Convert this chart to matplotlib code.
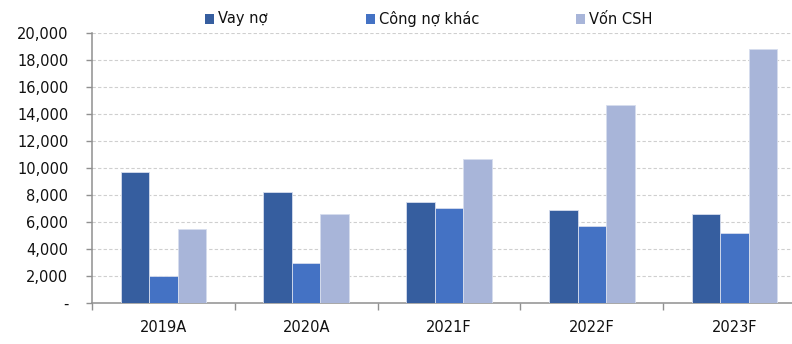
import matplotlib
matplotlib.use("Agg")
import matplotlib.pyplot as plt
from matplotlib.patches import Rectangle
from matplotlib.ticker import FuncFormatter, MultipleLocator
import numpy as np

categories = ["2019A", "2020A", "2021F", "2022F", "2023F"]
series_names = ["Vay nợ", "Công nợ khác", "Vốn CSH"]
vay_no = [9700, 8200, 7460, 6910, 6570]
cong_no_khac = [2000, 2960, 7040, 5680, 5160]
von_csh = [5460, 6570, 10640, 14620, 18810]
colors = ["#365E9F", "#4472C4", "#A8B5D9"]

plt.rcParams["font.family"] = ["DejaVu Sans"]
fig = plt.figure(figsize=(7.92, 3.44), dpi=100)
ax = fig.add_axes([92 / 792, 1 - 303 / 344, (806 - 92) / 792, (303 - 32.7) / 344])

x = np.arange(len(categories))
width = 0.2
for i, (vals, col) in enumerate(zip([vay_no, cong_no_khac, von_csh], colors)):
    ax.bar(x + (i - 1) * width, vals, width, color=col, edgecolor="#D6DDEE",
           linewidth=0.6, zorder=3)

ax.set_xlim(-0.5, len(categories) - 0.5)
ax.set_ylim(0, 20000)
ax.yaxis.set_major_locator(MultipleLocator(2000))
ax.yaxis.set_major_formatter(FuncFormatter(lambda v, p: "-" if v == 0 else f"{int(v):,}"))
ax.grid(axis="y", color="#CFCFCF", linestyle=(0, (3, 2)), linewidth=0.8, zorder=0)

ax.set_xticks(x)
ax.set_xticklabels(categories)
ax.set_xticks(np.arange(-0.5, len(categories)), minor=True)
ax.tick_params(axis="x", which="major", length=0, pad=12, labelsize=10.5, colors="#111111")
ax.tick_params(axis="x", which="minor", length=5, width=1, color="#909090", direction="out")
ax.tick_params(axis="y", length=4, width=1, color="#909090", pad=13, labelsize=10.5,
               labelcolor="#111111")

for s in ["top", "right"]:
    ax.spines[s].set_visible(False)
for s in ["left", "bottom"]:
    ax.spines[s].set_color("#909090")
    ax.spines[s].set_linewidth(1.1)

# legend entries laid out across the top
legend_x = [205, 366, 576]
for name, col, lx in zip(series_names, colors, legend_x):
    fig.patches.append(Rectangle((lx / 792, 1 - 23.5 / 344), 9 / 792, 9 / 344,
                                 transform=fig.transFigure, facecolor=col,
                                 edgecolor="none"))
    fig.text((lx + 13) / 792, 1 - 19 / 344, name, fontsize=10.5, va="center",
             ha="left", color="#111111")

fig.savefig("out.png", dpi=100)
